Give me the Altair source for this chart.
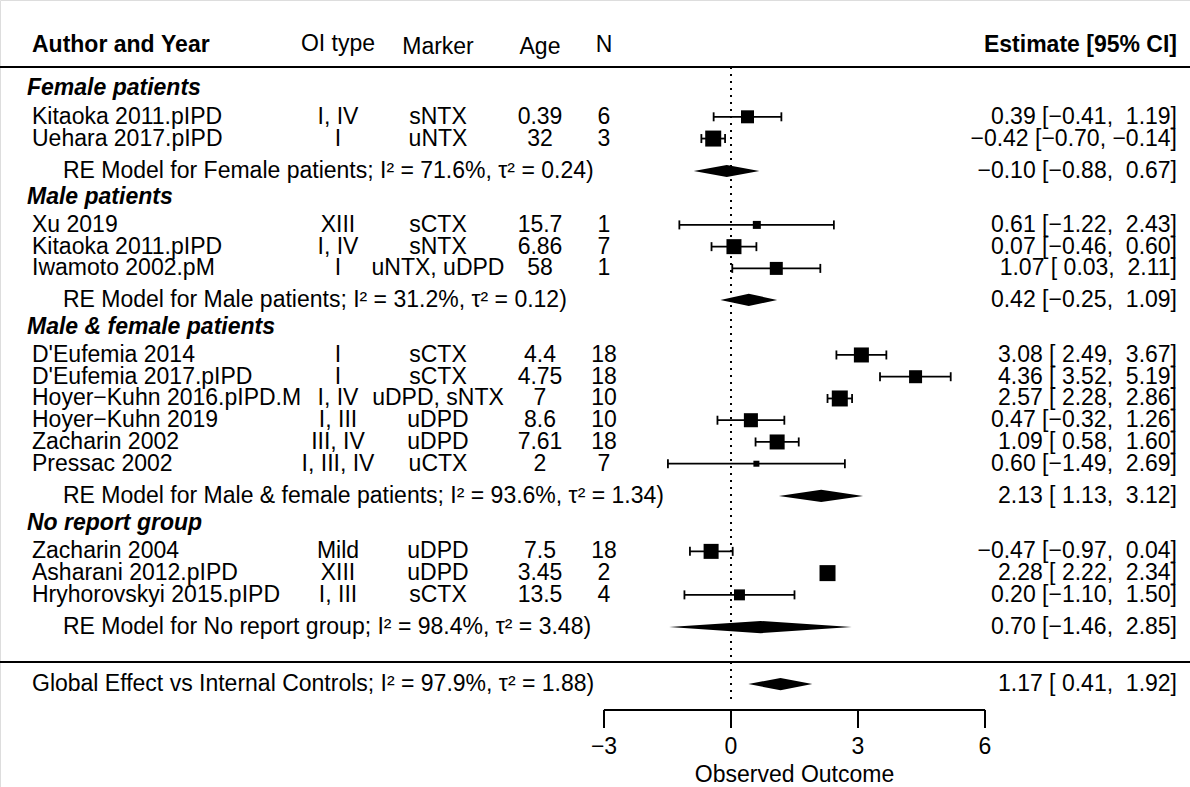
import altair as alt
import pandas as pd

W, H = 1190, 787
FONT = "Liberation Sans"
FS = 23

# ---------------- data ----------------
study_labels = ["Kitaoka 2011.pIPD", "Uehara 2017.pIPD",
                "Xu 2019", "Kitaoka 2011.pIPD", "Iwamoto 2002.pM",
                "D'Eufemia 2014", "D'Eufemia 2017.pIPD", "Hoyer\u2212Kuhn 2016.pIPD.M",
                "Hoyer\u2212Kuhn 2019", "Zacharin 2002", "Pressac 2002",
                "Zacharin 2004", "Asharani 2012.pIPD", "Hryhorovskyi 2015.pIPD"]
oi_type = ["I, IV", "I", "XIII", "I, IV", "I", "I", "I", "I, IV", "I, III",
           "III, IV", "I, III, IV", "Mild", "XIII", "I, III"]
marker = ["sNTX", "uNTX", "sCTX", "sNTX", "uNTX, uDPD      ", "sCTX", "sCTX",
          "uDPD, sNTX", "uDPD", "uDPD", "uCTX", "uDPD", "uDPD", "sCTX"]
age = ["0.39", "32", "15.7", "6.86", "58  ", "4.4", "4.75", "7", "8.6", "7.61",
       "2", "7.5", "3.45", "13.5"]
n_patients = [6, 3, 1, 7, 1, 18, 18, 10, 10, 18, 7, 18, 2, 4]
est = [0.39, -0.42, 0.61, 0.07, 1.07, 3.08, 4.36, 2.57, 0.47, 1.09, 0.60, -0.47, 2.28, 0.20]
ci_lo = [-0.41, -0.70, -1.22, -0.46, 0.03, 2.49, 3.52, 2.28, -0.32, 0.58, -1.49, -0.97, 2.22, -1.10]
ci_hi = [1.19, -0.14, 2.43, 0.60, 2.11, 3.67, 5.19, 2.86, 1.26, 1.60, 2.69, 0.04, 2.34, 1.50]
weight = [6.6, 10.0, 2.5, 8.8, 6.6, 8.8, 6.6, 10.0, 7.7, 8.8, 1.4, 8.8, 10.0, 4.7]
study_row = [2.29, 3.29, 7.26, 8.26, 9.26, 13.24, 14.24, 15.24, 16.24, 17.24, 18.24,
             22.27, 23.27, 24.27]

group_names = ["Female patients", "Male patients", "Male & female patients", "No report group"]
group_row = [0.97, 5.98, 11.95, 20.97]

re_groups = ["Female patients", "Male patients", "Male & female patients", "No report group"]
re_i2 = [71.6, 31.2, 93.6, 98.4]
re_tau2 = [0.24, 0.12, 1.34, 3.48]
re_est = [-0.10, 0.42, 2.13, 0.70]
re_lo = [-0.88, -0.25, 1.13, -1.46]
re_hi = [0.67, 1.09, 3.12, 2.85]
re_row = [4.78, 10.71, 19.72, 25.75]

global_label = "Global Effect vs Internal Controls"
global_i2 = 97.9
global_tau2 = 1.88
global_est = 1.17
global_lo = 0.41
global_hi = 1.92
global_row = 28.37

header_row = -1.0
axis_ticks = [-3, 0, 3, 6]
axis_title = "Observed Outcome"

# ---------------- helpers ----------------
def nb(s):
    return s.replace(" ", "\u00a0")

def f2(x):
    return f"{x:5.2f}".replace("-", "\u2212")

def ci_text(e, l, h):
    return nb(f"{f2(e)} [{f2(l)}, {f2(h)}]")

studies = pd.DataFrame({
    "label": [nb(s) for s in study_labels],
    "oi": [nb(s) for s in oi_type],
    "marker": [nb(s) for s in marker],
    "age": [nb(s) for s in age],
    "n": [str(v) for v in n_patients],
    "est": est, "lo": ci_lo, "hi": ci_hi, "weight": weight, "row": study_row,
    "txt": [ci_text(e, l, h) for e, l, h in zip(est, ci_lo, ci_hi)],
})

groups = pd.DataFrame({"name": group_names, "row": group_row})

summ = pd.DataFrame({
    "label": [nb(f"RE Model for {g}; I\u00b2 = {i:.1f}%, \u03c4\u00b2 = {t:.2f})")
              for g, i, t in zip(re_groups, re_i2, re_tau2)],
    "est": re_est, "lo": re_lo, "hi": re_hi, "row": re_row,
    "txt": [ci_text(e, l, h) for e, l, h in zip(re_est, re_lo, re_hi)],
})
glob = pd.DataFrame({
    "label": [nb(f"{global_label}; I\u00b2 = {global_i2:.1f}%, \u03c4\u00b2 = {global_tau2:.2f})")],
    "est": [global_est], "lo": [global_lo], "hi": [global_hi], "row": [global_row],
    "txt": [ci_text(global_est, global_lo, global_hi)],
})

# diamond polygons (lo, est, hi) with a half height in row units
HH = 0.28
dia_rows = []
allsumm = pd.concat([summ, glob], ignore_index=True)
for i, r in allsumm.iterrows():
    dia_rows.append({"id": i, "x": r["lo"], "y": r["row"], "y2": r["row"]})
    dia_rows.append({"id": i, "x": r["est"], "y": r["row"] - HH, "y2": r["row"] + HH})
    dia_rows.append({"id": i, "x": r["hi"], "y": r["row"], "y2": r["row"]})
diamonds = pd.DataFrame(dia_rows)

ticks = pd.DataFrame({"t": axis_ticks})

# ---------------- scales ----------------
PXU = 42.333
X0 = 731
xs = alt.Scale(domain=[-X0 / PXU, (W - X0) / PXU], nice=False, zero=False)
ROWPX = 21.75
Y0 = 67
ys = alt.Scale(domain=[-Y0 / ROWPX, (H - Y0) / ROWPX], nice=False, zero=False, reverse=True)

def X(field):
    return alt.X(field, type="quantitative", scale=xs, axis=None)

def Y(field):
    return alt.Y(field, type="quantitative", scale=ys, axis=None)

def XD(v):
    return alt.X(datum=v, type="quantitative", scale=xs, axis=None)

def YD(v):
    return alt.Y(datum=v, type="quantitative", scale=ys, axis=None)

# column positions (data units)
X_LABEL = (32 - X0) / PXU
X_HDR = (27 - X0) / PXU
X_RE = (63 - X0) / PXU
X_OI = (338 - X0) / PXU
X_MK = (438 - X0) / PXU
X_AGE = (540 - X0) / PXU
X_N = (604 - X0) / PXU
X_EST = (1177 - X0) / PXU
AXIS_ROW = 29.56
TICK_END = 30.39
TICKLAB_ROW = 31.26
TITLE_ROW = 32.55
SEP_ROW = 27.36
REF_TOP = 0.0
REF_BOT = 29.2

base = alt.Chart(studies)

def txt(chart, **kw):
    params = dict(font=FONT, fontSize=FS, baseline="middle", color="black")
    params.update(kw)
    return chart.mark_text(**params)

layers = []

# top line and separator
layers.append(alt.Chart(pd.DataFrame({"r": [0.0, SEP_ROW]})).mark_rule(color="black", strokeWidth=2).encode(
    x=alt.value(0), x2=alt.value(W), y=Y("r")))

# reference dotted line
layers.append(alt.Chart(pd.DataFrame({"v": [0]})).mark_rule(color="black", strokeWidth=2, strokeDash=[2, 5]).encode(
    x=X("v"), y=YD(REF_TOP), y2=alt.Y2(datum=REF_BOT)))

# header
hdr_specs = [("Author and Year", X_LABEL, "left", "bold", 0),
             ("OI type", X_OI, "center", "normal", -1),
             ("Marker", X_MK, "center", "normal", 2),
             ("Age", X_AGE, "center", "normal", 2),
             ("N", X_N, "center", "normal", 0),
             ("Estimate [95% CI]", X_EST, "right", "bold", 0)]
for t, xp, al, fw, dy in hdr_specs:
    layers.append(txt(alt.Chart(pd.DataFrame({"t": [nb(t)]})), align=al, fontWeight=fw, dy=dy).encode(
        x=XD(xp), y=YD(header_row), text="t:N"))

# group headers
layers.append(txt(alt.Chart(groups), align="left", fontWeight="bold", fontStyle="italic").encode(
    x=XD(X_HDR), y=Y("row"), text="name:N"))

# study columns
layers.append(txt(base, align="left").encode(x=XD(X_LABEL), y=Y("row"), text="label:N"))
layers.append(txt(base, align="center").encode(x=XD(X_OI), y=Y("row"), text="oi:N"))
layers.append(txt(base, align="center").encode(x=XD(X_MK), y=Y("row"), text="marker:N"))
layers.append(txt(base, align="center").encode(x=XD(X_AGE), y=Y("row"), text="age:N"))
layers.append(txt(base, align="center").encode(x=XD(X_N), y=Y("row"), text="n:N"))
layers.append(txt(base, align="right").encode(x=XD(X_EST), y=Y("row"), text="txt:N"))

# CI lines + caps
layers.append(base.mark_rule(color="black", strokeWidth=1.8).encode(x=X("lo"), x2="hi:Q", y=Y("row")))
layers.append(base.transform_fold(["lo", "hi"], as_=["end", "val"]).mark_tick(
    orient="vertical", color="black", size=9, thickness=1.8, opacity=1).encode(x=X("val"), y=Y("row")))

# squares
layers.append(base.mark_square(color="black", filled=True, opacity=1).encode(
    x=X("est"), y=Y("row"),
    size=alt.Size("weight:Q", scale=alt.Scale(domain=[0, 10], range=[0, 256]), legend=None)))

# summaries
layers.append(txt(alt.Chart(summ), align="left").encode(x=XD(X_RE), y=Y("row"), text="label:N"))
layers.append(txt(alt.Chart(summ), align="right").encode(x=XD(X_EST), y=Y("row"), text="txt:N"))
layers.append(txt(alt.Chart(glob), align="left").encode(x=XD(X_LABEL), y=Y("row"), text="label:N"))
layers.append(txt(alt.Chart(glob), align="right").encode(x=XD(X_EST), y=Y("row"), text="txt:N"))
layers.append(alt.Chart(diamonds).mark_area(color="black", orient="vertical", interpolate="linear", opacity=1).encode(
    x=X("x"), y=Y("y"), y2="y2:Q", detail="id:N"))

# axis
layers.append(alt.Chart(pd.DataFrame({"a": [min(axis_ticks)], "b": [max(axis_ticks)]})).mark_rule(
    color="black", strokeWidth=2).encode(x=X("a"), x2="b:Q", y=YD(AXIS_ROW)))
layers.append(alt.Chart(ticks).mark_rule(color="black", strokeWidth=2).encode(
    x=X("t"), y=YD(AXIS_ROW), y2=alt.Y2(datum=TICK_END)))
layers.append(txt(alt.Chart(ticks), align="center").encode(
    x=X("t"), y=YD(TICKLAB_ROW), text=alt.Text("t:Q", format="d")))
layers.append(txt(alt.Chart(pd.DataFrame({"t": [axis_title]})), align="center").encode(
    x=XD((min(axis_ticks) + max(axis_ticks)) / 2), y=YD(TITLE_ROW), text="t:N"))

chart = alt.layer(*layers).properties(
    width=W, height=H, autosize=alt.AutoSizeParams(type="none"), padding=0
).configure_view(stroke=None).configure(background="white")

chart.save("out.html", embed_options={"renderer": "svg", "actions": False})
